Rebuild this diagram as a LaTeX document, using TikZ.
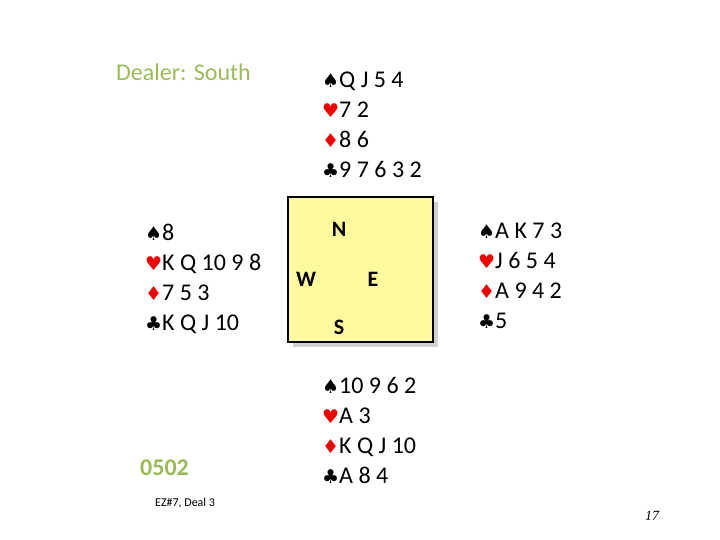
\documentclass[tikz,border=0pt]{standalone}
\usepackage{fontspec}
\setmainfont{Carlito}
\newfontfamily\suitfont{DejaVu Sans}
\newfontfamily\pagefont{Liberation Serif}
\usetikzlibrary{positioning}
\definecolor{dealGreen}{HTML}{9BBB59}
\definecolor{suitRed}{HTML}{F00000}
\definecolor{tableYellow}{HTML}{FFFA9E}
\definecolor{shadowGray}{HTML}{D0D0D0}
\newcommand{\sSpade}{{\suitfont\fontsize{19}{19}\selectfont ♠}}
\newcommand{\sHeart}{{\suitfont\fontsize{19}{19}\selectfont\color{suitRed}♥}}
\newcommand{\sDiam}{{\suitfont\fontsize{19}{19}\selectfont\color{suitRed}♦}}
\newcommand{\sClub}{{\suitfont\fontsize{19}{19}\selectfont ♣}}
\tikzset{
  hand/.style={anchor=north west, align=left, inner sep=0pt, font=\fontsize{24}{30}\selectfont},
  compass/.style={font=\bfseries\fontsize{22}{26}\selectfont, inner sep=0pt},
  table/.style={draw=black, line width=1.2pt, fill=tableYellow, minimum width=145pt, minimum height=145pt, inner sep=0pt},
  tableShadow/.style={draw=none, fill=shadowGray, minimum width=145pt, minimum height=145pt, inner sep=0pt},
  greenNote/.style={text=dealGreen, font=\fontsize{24}{28}\selectfont, anchor=west, inner sep=0pt},
  smallNote/.style={font=\fontsize{12}{14}\selectfont, anchor=west, inner sep=0pt}
}
\begin{document}
\begin{tikzpicture}[x=1pt,y=1pt]
\useasboundingbox (0,0) rectangle (720,540);

% table
\node[tableShadow] (shadow) at (365.5,265.5) {};
\node[table] (tbl) at (360.5,270.5) {};
\node[compass] (compN) at (339,311) {N};
\node[compass] (compW) at (306,261) {W};
\node[compass] (compE) at (373,261) {E};
\node[compass] (compS) at (339,213) {S};

% hands
\node[hand] (north) at (322,468) {\sSpade Q J 5 4\\\sHeart 7 2\\\sDiam 8 6\\\sClub 9 7 6 3 2};
\node[hand] (west) at (145,316) {\sSpade 8\\\sHeart K Q 10 9 8\\\sDiam 7 5 3\\\sClub K Q J 10};
\node[hand] (east) at (478,317) {\sSpade A K 7 3\\\sHeart J 6 5 4\\\sDiam A 9 4 2\\\sClub 5};
\node[hand] (south) at (322,163) {\sSpade 10 9 6 2\\\sHeart A 3\\\sDiam K Q J 10\\\sClub A 8 4};

% notes
\node[greenNote] (dealer) at (116,468) {Dealer: South};
\node[greenNote, font=\bfseries\fontsize{24}{28}\selectfont] (dealNo) at (140,72) {0502};
\node[smallNote] (source) at (155,37) {EZ\#7, Deal 3};
\node[font=\pagefont\itshape\fontsize{14}{16}\selectfont, anchor=west, inner sep=0pt] (pageNo) at (645,24) {17};

\end{tikzpicture}
\end{document}
